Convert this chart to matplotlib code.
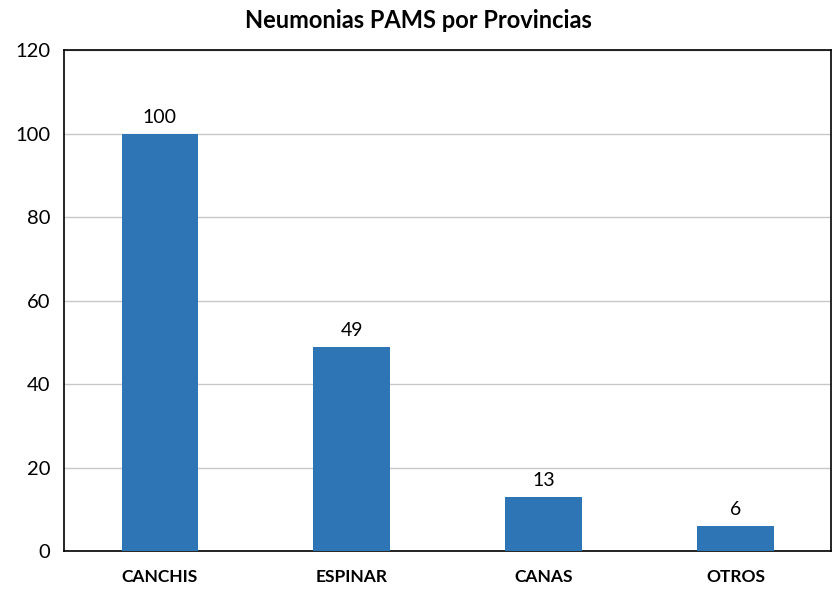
import numpy as np
import matplotlib
matplotlib.use("Agg")
import matplotlib.pyplot as plt

plt.rcParams["font.family"] = ["Lato", "DejaVu Sans"]

provincias = ["CANCHIS", "ESPINAR", "CANAS", "OTROS"]
casos = [100, 49, 13, 6]

fig = plt.figure(figsize=(8.36, 5.98), dpi=100)
ax = fig.add_axes([0.0766, 0.0786, 0.918, 0.837])

xs = np.arange(len(provincias))
ax.bar(xs, casos, width=0.4, color="#2E75B6", zorder=3)

for x, v in zip(xs, casos):
    ax.text(x, v + 1.8, str(v), ha="center", va="bottom", fontsize=14)

ax.set_xlim(-0.5, len(provincias) - 0.5)
ax.set_ylim(0, 120)
ax.set_yticks(range(0, 121, 20))
ax.set_xticks(xs)
ax.set_xticklabels(provincias, fontsize=12.5, fontweight="bold")
ax.tick_params(axis="y", labelsize=14.5, length=0, pad=10)
ax.tick_params(axis="x", length=0, pad=13)

ax.grid(axis="y", color="#C8C8C8", lw=1, zorder=0)
for sp in ax.spines.values():
    sp.set_color("black")
    sp.set_linewidth(1.2)

fig.suptitle("Neumonias PAMS por Provincias", fontsize=17,
             fontweight="bold", y=0.985)

plt.savefig("out.png", dpi=100)
